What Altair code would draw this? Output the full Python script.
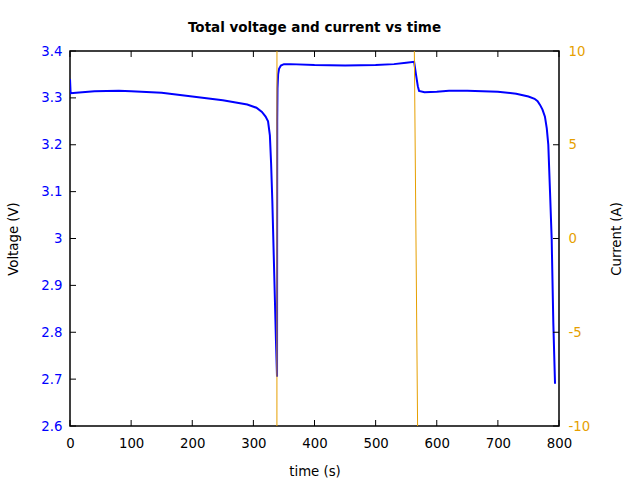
import altair as alt
import pandas as pd

# Voltage trace (time in s, voltage in V)
t_volt = [0, 1, 10, 40, 80, 100, 150, 200, 250, 290, 305, 314, 320, 324, 327, 329,
          331, 333, 335, 337, 338.7, 339.0, 339.5, 340.5, 342, 345, 350, 360, 400,
          450, 500, 530, 550, 563, 566, 569, 571, 580, 600, 620, 650, 700, 730, 750,
          760, 765, 769, 773, 777, 780, 782.5, 785.3, 788, 790.7, 793.5]
voltage = [3.34, 3.31, 3.311, 3.314, 3.315, 3.314, 3.311, 3.303, 3.295, 3.286, 3.279,
           3.270, 3.260, 3.25, 3.22, 3.16, 3.08, 2.98, 2.88, 2.78, 2.705, 3.25, 3.32,
           3.35, 3.362, 3.369, 3.372, 3.372, 3.370, 3.369, 3.370, 3.372, 3.375, 3.377,
           3.35, 3.325, 3.315, 3.312, 3.313, 3.315, 3.315, 3.313, 3.309, 3.303, 3.298,
           3.293, 3.285, 3.275, 3.26, 3.235, 3.2, 3.10, 3.0, 2.82, 2.69]

# Current trace (time in s, current in A) - mostly off the plotted range
t_curr = [0, 338.5, 338.6, 562, 570, 793.5]
current = [-15, -15, 15, 15, -15, -15]

# Axis tick values
x_ticks = [0, 100, 200, 300, 400, 500, 600, 700, 800]
v_ticks = [2.6, 2.7, 2.8, 2.9, 3.0, 3.1, 3.2, 3.3, 3.4]
c_ticks = [-10, -5, 0, 5, 10]

dv = pd.DataFrame({"t": t_volt, "v": voltage})
dc = pd.DataFrame({"t": t_curr, "c": current})
dxt = pd.DataFrame({"tt": x_ticks})
dvt = pd.DataFrame({"vt": v_ticks})
dct = pd.DataFrame({"ct": c_ticks})

FONT = "DejaVu Sans"
FS = 13.3
BLUE = "#0000FF"
ORANGE = "#E69F00"
W, H, TK = 489, 375, 6

xscale = alt.Scale(domain=[0, 800], nice=False, zero=False)
vscale = alt.Scale(domain=[2.6, 3.4], nice=False, zero=False)
cscale = alt.Scale(domain=[-10, 10], nice=False, zero=False)

xaxis = alt.Axis(orient="bottom", title="time (s)", values=x_ticks,
                 ticks=False, domain=False, grid=False,
                 labelPadding=10, labelFont=FONT, labelFontSize=FS,
                 labelColor="black",
                 titleFont=FONT, titleFontSize=FS, titleFontWeight="normal",
                 titlePadding=15, labelFlush=False)

volt = alt.Chart(dv).mark_line(color=BLUE, strokeWidth=2, clip=True).encode(
    x=alt.X("t:Q", scale=xscale, axis=xaxis),
    y=alt.Y("v:Q", scale=vscale,
            axis=alt.Axis(orient="left", title="Voltage (V)", values=v_ticks,
                          format="~g", ticks=False, domain=False, grid=False,
                          labelPadding=8, labelFont=FONT, labelFontSize=FS,
                          labelColor=BLUE,
                          titleFont=FONT, titleFontSize=FS, titleFontWeight="normal",
                          titlePadding=20, labelFlush=False)),
)

curr = alt.Chart(dc).mark_line(color=ORANGE, strokeWidth=1, clip=True).encode(
    x=alt.X("t:Q", scale=xscale, axis=None),
    y=alt.Y("c:Q", scale=cscale,
            axis=alt.Axis(orient="right", title="Current (A)", values=c_ticks,
                          labelExpr="datum.value < 0 ? '-' + abs(datum.value) : '' + datum.value",
                          ticks=False, domain=False, grid=False,
                          labelPadding=9, labelFont=FONT, labelFontSize=FS,
                          labelColor=ORANGE,
                          titleFont=FONT, titleFontSize=FS, titleFontWeight="normal",
                          titleAngle=270, titleBaseline="top",
                          titlePadding=20, labelFlush=False)),
)

# Inward tick marks, placed through the same scales
tick_style = dict(color="black", strokeWidth=1)
xt_bottom = alt.Chart(dxt).mark_rule(**tick_style).encode(
    x=alt.X("tt:Q", scale=xscale, axis=None), y=alt.value(H - TK), y2=alt.value(H))
xt_top = alt.Chart(dxt).mark_rule(**tick_style).encode(
    x=alt.X("tt:Q", scale=xscale, axis=None), y=alt.value(0), y2=alt.value(TK))
vt_left = alt.Chart(dvt).mark_rule(**tick_style).encode(
    y=alt.Y("vt:Q", scale=vscale, axis=None), x=alt.value(0), x2=alt.value(TK))
ct_right = alt.Chart(dct).mark_rule(**tick_style).encode(
    y=alt.Y("ct:Q", scale=cscale, axis=None), x=alt.value(W - TK), x2=alt.value(W))

chart = alt.layer(volt, curr, xt_bottom, xt_top, vt_left, ct_right).resolve_scale(
    x="independent", y="independent"
).properties(
    width=W, height=H,
    autosize=alt.AutoSizeParams(type="none"),
    padding={"left": 70, "top": 51, "right": 81, "bottom": 54},
    title=alt.TitleParams("Total voltage and current vs time", font=FONT, fontSize=13.5,
                          fontWeight="bold", color="black", baseline="alphabetic",
                          offset=-1, anchor="middle"),
).configure(background="white").configure_view(stroke="black", strokeWidth=1.5)

chart.save("out.html", embed_options={"renderer": "svg", "actions": False})
